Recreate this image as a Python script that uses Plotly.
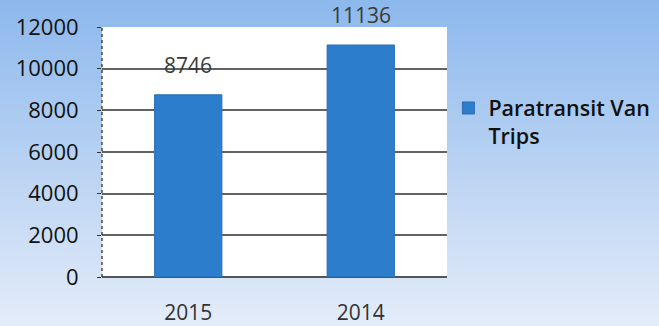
import plotly.graph_objects as go

# Data
years = ["2015", "2014"]
trips = [8746, 11136]
series_name = "Paratransit Van<br>Trips"
y_ticks = [0, 2000, 4000, 6000, 8000, 10000, 12000]

W, H = 659, 326
L, R, T, B = 102, 212, 27, 49
PW, PH = W - L - R, H - T - B

fig = go.Figure()
fig.add_trace(go.Bar(
    x=years, y=trips, name=series_name,
    marker=dict(color="#2c7ecd", line=dict(color="#2a6db3", width=1)),
    showlegend=True,
))

# value labels above each bar (category index so numeric-looking names stay categories)
for i, v in enumerate(trips):
    fig.add_annotation(x=i, y=v, text=str(v), showarrow=False,
                       xanchor="center", yanchor="bottom", yshift=14,
                       font=dict(family="Open Sans", size=21, color="#3a3a3a"))

# vertical blue-to-pale page gradient built from thin strips
top_rgb = (0x8d, 0xb8, 0xec)
bot_rgb = (0xe3, 0xec, 0xf9)
n = 60
y_top = 1 + T / PH
y_span = H / PH
shapes = []
for i in range(n):
    t = i / (n - 1)
    c = tuple(round(top_rgb[k] + (bot_rgb[k] - top_rgb[k]) * t) for k in range(3))
    y1 = y_top - i * y_span / n + 0.003
    y0 = y_top - (i + 1) * y_span / n - 0.003
    if i == 0:
        y1 += 0.5
    if i == n - 1:
        y0 -= 0.5
    shapes.append(dict(type="rect", xref="paper", yref="paper", layer="below",
                       x0=-1.0, x1=2.5, y1=y1, y0=y0,
                       fillcolor="rgb(%d,%d,%d)" % c, line=dict(width=0)))
# white plotting area
shapes.append(dict(type="rect", xref="paper", yref="paper", layer="below",
                   x0=0, x1=1, y0=0, y1=1, fillcolor="white", line=dict(width=0)))
# dotted left axis
shapes.append(dict(type="line", xref="paper", yref="paper", x0=0, x1=0, y0=0, y1=1.0,
                   line=dict(color="#222", width=1.2, dash="dot")))
fig.update_layout(shapes=shapes)

fig.update_layout(
    width=W, height=H,
    margin=dict(l=L, r=R, t=T, b=B, autoexpand=False),
    paper_bgcolor="#c4d9f4", plot_bgcolor="white",
    bargap=0.61,
    font=dict(family="Open Sans", color="#111"),
    xaxis=dict(type="category", range=[-0.5, 1.5], showgrid=False, showline=False,
               zeroline=False, tickfont=dict(size=21, color="#333"), ticks="",
               ticklabelstandoff=21, automargin=False),
    yaxis=dict(range=[0, 12000], tickvals=y_ticks, ticktext=[str(v) for v in y_ticks],
               showgrid=True, gridcolor="#626262", gridwidth=1.5,
               zeroline=True, zerolinecolor="#555", zerolinewidth=1.5,
               ticks="outside", ticklen=4, tickcolor="#333",
               tickfont=dict(size=22, color="#111"), ticklabelstandoff=14,
               automargin=False),
    legend=dict(x=1.004, xanchor="left", y=0.758, yanchor="top", valign="top",
                font=dict(size=21.5, color="#111", family="Open Sans", weight=600),
                bgcolor="rgba(0,0,0,0)", tracegroupgap=0),
)

fig.write_html("out.html")
